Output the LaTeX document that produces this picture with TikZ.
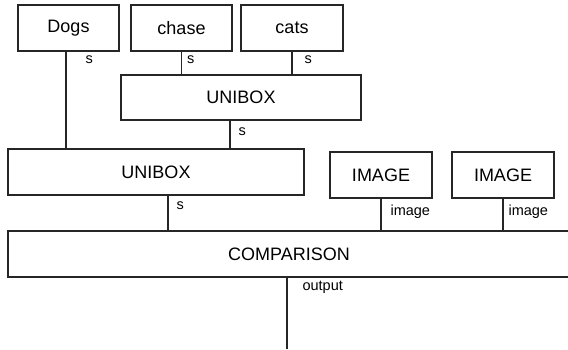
\documentclass[tikz,border=0pt]{standalone}
\usepackage{fontspec}
\setmainfont{Liberation Sans}
\tikzset{
    unit/.style = {draw = black!85, line width = 1.1pt, rectangle, inner sep = 0pt,
        font = \fontsize{18}{20}\selectfont},
    wire/.style = {draw = black!85, line width = 1.1pt},
    lab/.style = {font = \fontsize{14.5}{16}\selectfont, anchor = base west, inner sep = 0pt}
}
\begin{document}
\begin{tikzpicture}[x = 1pt, y = -1pt]
    \useasboundingbox (0,0) rectangle (568,349);
    % word inputs
    \node[unit, minimum width = 101pt, minimum height = 46pt] (dogs) at (68.5,28) {Dogs};
    \node[unit, minimum width = 101pt, minimum height = 46pt] (chase) at (181.5,28) {chase};
    \node[unit, minimum width = 102pt, minimum height = 46pt] (cats) at (292,28) {cats};
    % units
    \node[unit, minimum width = 240pt, minimum height = 45pt] (unitop) at (241,97.5) {UNIBOX};
    \node[unit, minimum width = 296pt, minimum height = 46pt] (unibot) at (156,172) {UNIBOX};
    \node[unit, minimum width = 102pt, minimum height = 46pt] (imga) at (381,175) {IMAGE};
    \node[unit, minimum width = 102pt, minimum height = 46pt] (imgb) at (503,175) {IMAGE};
    \node[unit, minimum width = 562pt, minimum height = 46pt] (comp) at (289,254) {COMPARISON};
    \coordinate (out) at (287,349);
    % connections
    \draw[wire] ([xshift = -2.5pt]dogs.south) -- ([xshift = -2.5pt]dogs.south |- unibot.north)
        node[lab, pos = 0, xshift = 19pt, yshift = -12pt] (sdogs) {s};
    \draw[wire] (chase.south) -- (chase.south |- unitop.north)
        node[lab, pos = 0, xshift = 5pt, yshift = -12pt] (schase) {s};
    \draw[wire] (cats.south) -- (cats.south |- unitop.north)
        node[lab, pos = 0, xshift = 12pt, yshift = -12pt] (scats) {s};
    \draw[wire] ([xshift = -11pt]unitop.south) -- ([xshift = -11pt]unitop.south |- unibot.north)
        node[lab, pos = 0, xshift = 8pt, yshift = -15pt] (sunitop) {s};
    \draw[wire] ([xshift = 12pt]unibot.south) -- ([xshift = 12pt]unibot.south |- comp.north)
        node[lab, pos = 0, xshift = 8pt, yshift = -14pt] (sunibot) {s};
    \draw[wire] (imga.south) -- (imga.south |- comp.north)
        node[lab, pos = 0, xshift = 9pt, yshift = -17pt] (simga) {image};
    \draw[wire] (imgb.south) -- (imgb.south |- comp.north)
        node[lab, pos = 0, xshift = 5pt, yshift = -17pt] (simgb) {image};
    \draw[wire] (out |- comp.south) -- (out)
        node[lab, pos = 0, xshift = 15pt, yshift = -13pt] (sout) {output};
\end{tikzpicture}
\end{document}
